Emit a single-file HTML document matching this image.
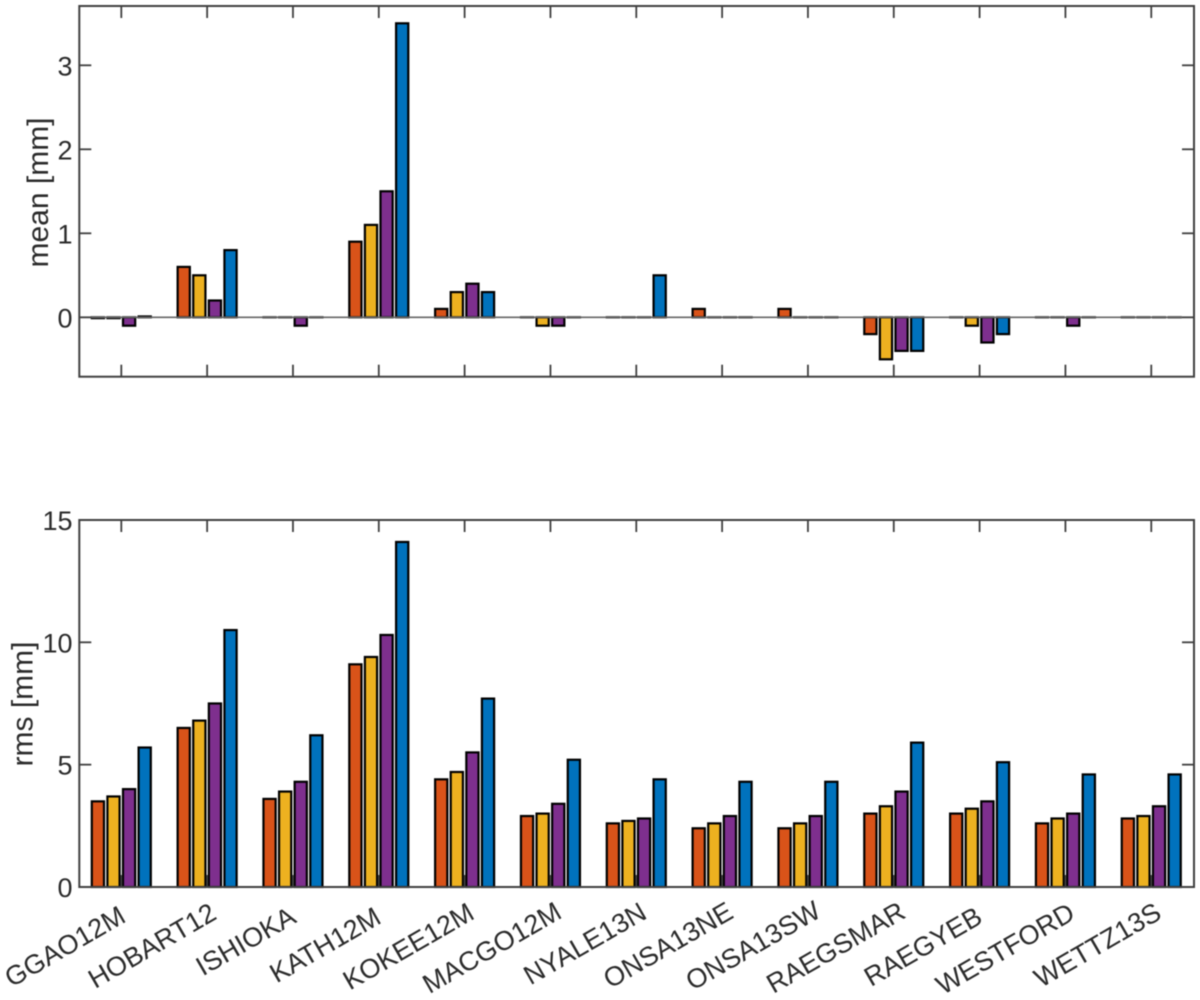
<!DOCTYPE html>
<html lang="en">
<head>
<meta charset="utf-8">
<title>Station mean and rms bar charts</title>
<style>
html,body{margin:0;padding:0;background:#fff;}
#chart{display:block;width:1200px;height:1000px;filter:blur(0.45px);}
text{font-family:"Liberation Sans",Arial,sans-serif;fill:#2b2b2b;}
</style>
</head>
<body>
<svg id="chart" xmlns="http://www.w3.org/2000/svg" width="1200" height="1000" viewBox="0 0 1200 1000"></svg>
<script>
const stations = ["GGAO12M","HOBART12","ISHIOKA","KATH12M","KOKEE12M","MACGO12M","NYALE13N","ONSA13NE","ONSA13SW","RAEGSMAR","RAEGYEB","WESTFORD","WETTZ13S"];
const seriesNames = ["series-1","series-2","series-3","series-4"];
const seriesColors = ["#D95319","#EDB120","#7E2F8E","#0072BD"];

const meanSeries1 = [-0.01,0.6,0,0.9,0.1,0,0,0.1,0.1,-0.2,0,0,0];
const meanSeries2 = [-0.01,0.5,0,1.1,0.3,-0.1,0,0,0,-0.5,-0.1,0,0];
const meanSeries3 = [-0.1,0.2,-0.1,1.5,0.4,-0.1,0,0,0,-0.4,-0.3,-0.1,0];
const meanSeries4 = [0.01,0.8,0,3.5,0.3,0,0.5,0,0,-0.4,-0.2,0,0];

const rmsSeries1 = [3.5,6.5,3.6,9.1,4.4,2.9,2.6,2.4,2.4,3.0,3.0,2.6,2.8];
const rmsSeries2 = [3.7,6.8,3.9,9.4,4.7,3.0,2.7,2.6,2.6,3.3,3.2,2.8,2.9];
const rmsSeries3 = [4.0,7.5,4.3,10.3,5.5,3.4,2.8,2.9,2.9,3.9,3.5,3.0,3.3];
const rmsSeries4 = [5.7,10.5,6.2,14.1,7.7,5.2,4.4,4.3,4.3,5.9,5.1,4.6,4.6];

const meanTicks = [0,1,2,3];
const rmsTicks = [0,5,10,15];

const svg = document.getElementById('chart');
const NS = 'http://www.w3.org/2000/svg';
function make(tag, attrs, parent) {
  const el = document.createElementNS(NS, tag);
  for (const k in attrs) el.setAttribute(k, attrs[k]);
  parent.appendChild(el);
  return el;
}
const AXIS = '#404040';
const LEFT = 79.3, RIGHT = 1194;
const xScale = i => 121.3 + 85.83 * i;
const barOffsets = [-1.5, -0.5, 0.5, 1.5];
const BAR_STEP = 15.6, BAR_W = 12.2;

function drawPanel(cfg) {
  const g = make('g', {}, svg);
  
  
  const y = v => cfg.zeroY - v * cfg.pxPerUnit;

  cfg.series.forEach((vals, s) => {
    const sg = make('g', {}, g);
    
    
    vals.forEach((v, i) => {
      const cx = xScale(i) + barOffsets[s] * BAR_STEP;
      const top = Math.min(y(v), y(0));
      const h = Math.max(Math.abs(y(v) - y(0)), 0.01);
      const bar = make('rect', {x: cx - BAR_W / 2, y: top, width: BAR_W, height: h, fill: seriesColors[s], stroke: '#000', 'stroke-width': 2.2}, sg);
      
      
    });
  });

  if (cfg.baseline) {
    const base = make('line', {x1: LEFT, x2: RIGHT, y1: y(0), y2: y(0), stroke: '#666', 'stroke-width': 1.6}, g);
    
    
  }

  const frame = make('rect', {x: LEFT, y: cfg.top, width: RIGHT - LEFT, height: cfg.bottom - cfg.top, fill: 'none', stroke: AXIS, 'stroke-width': 2}, g);
  
  

  stations.forEach((st, i) => {
    const t1 = make('line', {x1: xScale(i), x2: xScale(i), y1: cfg.bottom, y2: cfg.bottom - 12, stroke: AXIS, 'stroke-width': 1.8}, g);
    
    
    const t2 = make('line', {x1: xScale(i), x2: xScale(i), y1: cfg.top, y2: cfg.top + 12, stroke: AXIS, 'stroke-width': 1.8}, g);
    
    
  });

  cfg.ticks.forEach(v => {
    const t = make('line', {x1: LEFT, x2: LEFT + 12, y1: y(v), y2: y(v), stroke: AXIS, 'stroke-width': 1.8}, g);
    
    
    const t3 = make('line', {x1: RIGHT, x2: RIGHT - 12, y1: y(v), y2: y(v), stroke: AXIS, 'stroke-width': 1.8}, g);
    
    
    const lab = make('text', {x: 72.5, y: y(v) + 10, 'text-anchor': 'end', 'font-size': 27}, g);
    lab.textContent = String(v);
    
    
  });

  const title = make('text', {transform: 'translate(' + cfg.labelX + ' ' + cfg.labelY + ') rotate(-90)', 'text-anchor': 'middle', 'font-size': 30}, g);
  title.textContent = cfg.label;
  
  
}

drawPanel({name: 'mean', top: 6, bottom: 376.7, zeroY: 317.3, pxPerUnit: 84, ticks: meanTicks, baseline: true,
  series: [meanSeries1, meanSeries2, meanSeries3, meanSeries4], label: 'mean [mm]', labelX: 48, labelY: 192.5});
drawPanel({name: 'rms', top: 520, bottom: 887, zeroY: 887, pxPerUnit: 24.47, ticks: rmsTicks, baseline: false,
  series: [rmsSeries1, rmsSeries2, rmsSeries3, rmsSeries4], label: 'rms [mm]', labelX: 32.7, labelY: 704});

/* per-label slide along the rotated baseline (layout style, not data) */
const labelSlide = {GGAO12M:0, HOBART12:5.8, ISHIOKA:-1.5, KATH12M:-2.4, KOKEE12M:6.2, MACGO12M:8, NYALE13N:7, ONSA13NE:8, ONSA13SW:10, RAEGSMAR:8.6, RAEGYEB:-1.8, WESTFORD:6, WETTZ13S:6.7};
stations.forEach((st, i) => {
  const slide = labelSlide[st] || 0;
  const lx = xScale(i) + 6 + slide * 0.866;
  const ly = 921 - slide * 0.5;
  const lab = make('text', {transform: 'translate(' + lx + ' ' + ly + ') rotate(-30)', 'text-anchor': 'end', 'font-size': 27}, svg);
  lab.textContent = st;
  
  
});
</script>
</body>
</html>
